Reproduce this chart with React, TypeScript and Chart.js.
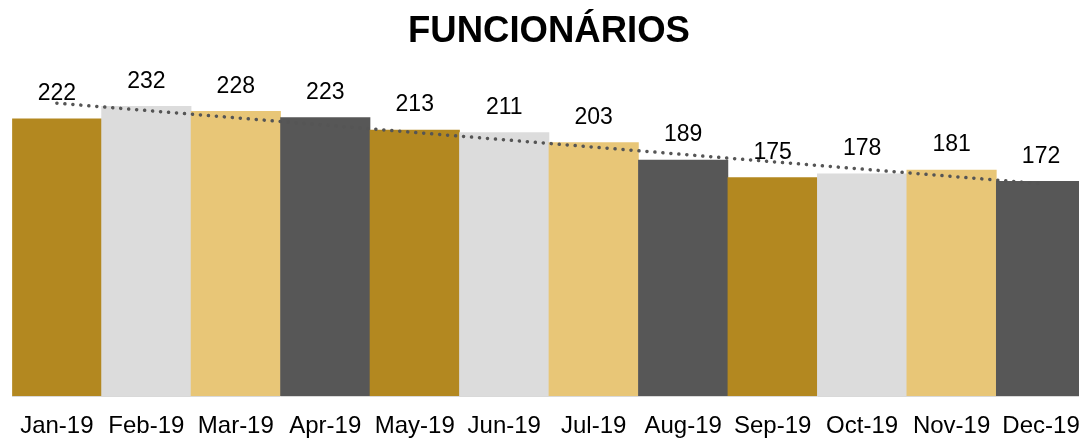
import React, { useEffect, useRef } from "react";
import { Chart, registerables } from "chart.js";

Chart.register(...registerables);

const categories = ["Jan-19", "Feb-19", "Mar-19", "Apr-19", "May-19", "Jun-19", "Jul-19", "Aug-19", "Sep-19", "Oct-19", "Nov-19", "Dec-19"];
const employees = [222, 232, 228, 223, 213, 211, 203, 189, 175, 178, 181, 172];
const barColors = ["#B38820", "#DCDCDC", "#E8C677", "#575757"];
// trendline end points (first and last month)
const trendline = [234.5, null, null, null, null, null, null, null, null, null, null, 170];
const chartTitle = "FUNCIONÁRIOS";

const FONT = '"Liberation Sans", Arial, Helvetica, sans-serif';

const valueLabels = {
  id: "valueLabels",
  afterDatasetsDraw(chart: any) {
    const ctx = chart.ctx;
    const meta = chart.getDatasetMeta(0);
    ctx.save();
    ctx.font = `23px ${FONT}`;
    ctx.fillStyle = "#000";
    ctx.textAlign = "center";
    ctx.textBaseline = "middle";
    meta.data.forEach((bar: any, i: number) => {
      ctx.fillText(String(employees[i]), bar.x, bar.y - 25);
    });
    ctx.restore();
  },
};

export default function App() {
  const ref = useRef<HTMLCanvasElement>(null);
  useEffect(() => {
    if (!ref.current) return;
    Chart.defaults.font.family = FONT;
    const chart = new Chart(ref.current, {
      type: "bar",
      data: {
        labels: categories,
        datasets: [
          {
            type: "bar",
            data: employees,
            backgroundColor: categories.map((_, i) => barColors[i % barColors.length]),
            categoryPercentage: 1,
            barPercentage: 1,
            borderWidth: 0,
            order: 2,
          },
          {
            type: "line",
            data: trendline as any,
            spanGaps: true,
            borderColor: "#555555",
            borderWidth: 3.5,
            borderDash: [0.1, 7.9],
            borderCapStyle: "round",
            pointRadius: 0,
            pointHoverRadius: 0,
            fill: false,
            order: 0,
          } as any,
        ],
      },
      options: {
        responsive: false,
        animation: false,
        layout: { autoPadding: false, padding: { left: 0, right: 0, top: 0, bottom: -18 } },
        plugins: {
          legend: { display: false },
          tooltip: { enabled: false },
          title: {
            display: true,
            text: chartTitle,
            fullSize: false,
            color: "#000",
            font: { size: 36.5, weight: "bold", family: FONT, lineHeight: 1.2 },
            padding: { top: 10, bottom: 30 },
          },
        },
        scales: {
          x: {
            grid: { display: false, drawTicks: false },
            border: { display: true, color: "#D9D9D9", width: 1 },
            ticks: { color: "#000", font: { size: 24, family: FONT, lineHeight: 0.54 }, padding: 23.5, maxRotation: 0, autoSkip: false },
          },
          y: {
            display: false,
            min: 0,
            max: 250,
          },
        },
      },
      plugins: [valueLabels],
    });
    return () => chart.destroy();
  }, []);
  return (
    <div style={{ position: "fixed", left: 0, top: 0, width: 1079, height: 438, overflow: "hidden", background: "#fff" }}>
      <canvas ref={ref} width={1108} height={438} style={{ display: "block", marginLeft: -4 }} />
    </div>
  );
}
